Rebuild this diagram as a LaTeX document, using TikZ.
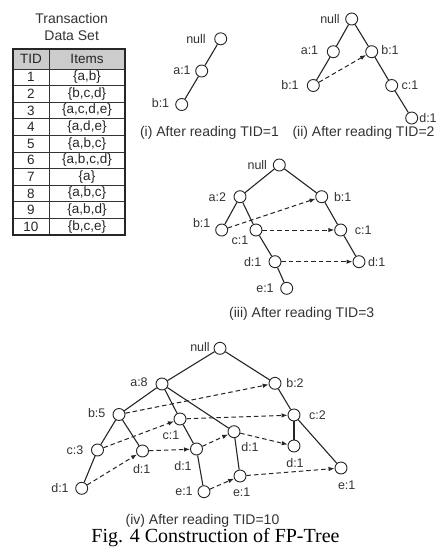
\documentclass[tikz,border=0pt]{standalone}
\usepackage{fontspec}
\setmainfont{Liberation Sans}
\newfontfamily\figcapfont{Liberation Serif}
\usetikzlibrary{arrows.meta}
\newcommand\fpn[4]{\node[circ] (#1) at (#2) {}; \node[lbl] (#1l) at (#3) {#4};}
\begin{document}
\begin{tikzpicture}[x=1pt,y=-1pt,
  circ/.style={circle,draw=black!85,line width=0.9pt,minimum size=12pt,inner sep=0pt,fill=white},
  lbl/.style={inner sep=0pt,font=\fontsize{12.5}{14}\selectfont,text=black!80},
  edge/.style={line width=1.1pt,draw=black!85},
  link/.style={line width=1pt,draw=black!85,dash pattern=on 4.5pt off 3pt,-{Latex[length=6pt,width=4.5pt]}},
  captxt/.style={inner sep=0pt,font=\fontsize{14}{16}\selectfont,text=black!80},
  tbl/.style={inner sep=0pt,font=\fontsize{13.5}{15}\selectfont,text=black!85},
]
\useasboundingbox (0,0) rectangle (438,547);

% ---------- table ----------
\node[captxt] (tt1) at (71.7,18.3) {Transaction};
\node[captxt] (tt2) at (71.7,36) {Data Set};
\fill[gray!40] (13,49) rectangle (125,69);
\foreach \r in {1,...,9} \draw[line width=0.7pt,black!80] (13,69+16.6*\r) -- (125,69+16.6*\r);
\draw[line width=0.7pt,black!80] (13,69) -- (125,69);
\draw[line width=0.7pt,black!80] (49,49) -- (49,235);
\draw[line width=1.2pt,black!85] (13,49) rectangle (125,235);
\node[tbl] (hTID) at (31,59) {TID};
\node[tbl] (hItems) at (87,59) {Items};
\foreach \i/\s in {1/{\{a,b\}},2/{\{b,c,d\}},3/{\{a,c,d,e\}},4/{\{a,d,e\}},5/{\{a,b,c\}},6/{\{a,b,c,d\}},7/{\{a\}},8/{\{a,b,c\}},9/{\{a,b,d\}},10/{\{b,c,e\}}}{
  \node[tbl] (tid\i) at (31,69+16.6*\i-8.3) {\i};
  \node[tbl] (it\i) at (87,69+16.6*\i-8.3) {\s};
}

% ---------- tree (i) ----------
\fpn{inull}{220.7,38.8}{196,39}{null}
\fpn{ia}{201.7,71}{182,70.5}{a:1}
\fpn{ib}{181.7,104.5}{160.5,103.5}{b:1}
\draw[edge] (inull) -- (ia);
\draw[edge] (ia) -- (ib);
\node[captxt] (capi) at (209.5,133) {(i) After reading TID=1};

% ---------- tree (ii) ----------
\fpn{iinull}{351.7,19}{330,19}{null}
\fpn{iia}{333.3,51.7}{309.5,50.5}{a:1}
\fpn{iibr}{371.7,51.7}{390,50.5}{b:1}
\fpn{iibl}{313.3,85.5}{290,85}{b:1}
\fpn{iic}{391.7,85.5}{410,85}{c:1}
\fpn{iid}{411.7,118}{428,118}{d:1}
\draw[edge] (iinull) -- (iia);
\draw[edge] (iinull) -- (iibr);
\draw[edge] (iia) -- (iibl);
\draw[edge] (iibr) -- (iic);
\draw[edge] (iic) -- (iid);
\draw[link] (iibl) -- (iibr);
\node[captxt] (capii) at (363.5,133) {(ii) After reading TID=2};

% ---------- tree (iii) ----------
\fpn{iiinull}{279.3,165}{257.3,165}{null}
\fpn{iiia}{240,196.7}{217.3,196.7}{a:2}
\fpn{iiibr}{321.7,196.7}{342.7,196.7}{b:1}
\fpn{iiibl}{221.7,230}{201.7,223.3}{b:1}
\fpn{iiicm}{256,230}{240,240}{c:1}
\fpn{iiicr}{340.7,230}{363.3,230}{c:1}
\fpn{iiidm}{275,261.7}{252.7,261.7}{d:1}
\fpn{iiidr}{359,261.7}{376.7,261.7}{d:1}
\fpn{iiie}{286.7,288.3}{265,288.3}{e:1}
\draw[edge] (iiinull) -- (iiia);
\draw[edge] (iiinull) -- (iiibr);
\draw[edge] (iiia) -- (iiibl);
\draw[edge] (iiia) -- (iiicm);
\draw[edge] (iiicm) -- (iiidm);
\draw[edge] (iiidm) -- (iiie);
\draw[edge] (iiibr) -- (iiicr);
\draw[edge] (iiicr) -- (iiidr);
\draw[link] (iiibl) -- (iiibr);
\draw[link] (iiicm) -- (iiicr);
\draw[link] (iiidm) -- (iiidr);
\node[captxt] (capiii) at (301.7,314) {(iii) After reading TID=3};

% ---------- tree (iv) ----------
\fpn{ivnull}{220,348.3}{200,347}{null}
\fpn{iva}{162,384}{139,382}{a:8}
\fpn{ivb}{275,383.3}{295,383.3}{b:2}
\fpn{ivbf}{119,414.5}{96.7,412.7}{b:5}
\fpn{ivc}{180,419}{171,435}{c:1}
\fpn{ivct}{294,415}{317.5,415}{c:2}
\fpn{ivda}{234,431.7}{250,447.3}{d:1}
\fpn{ivcth}{97.5,450}{75,450}{c:3}
\fpn{ivdb}{142.5,451}{141.7,469}{d:1}
\fpn{ivdc}{196.5,449}{183,466}{d:1}
\fpn{ivdd}{294,446}{295,463.3}{d:1}
\fpn{iver}{341,468}{346.7,485}{e:1}
\fpn{ivdl}{81.7,488.3}{60,488}{d:1}
\fpn{ivec}{204,491.7}{184,491.7}{e:1}
\fpn{ivea}{240,476}{241.7,492}{e:1}
\draw[edge] (ivnull) -- (iva);
\draw[edge] (ivnull) -- (ivb);
\draw[edge] (iva) -- (ivbf);
\draw[edge] (iva) -- (ivc);
\draw[edge] (iva) -- (ivda);
\draw[edge] (ivbf) -- (ivcth);
\draw[edge] (ivbf) -- (ivdb);
\draw[edge] (ivcth) -- (ivdl);
\draw[edge] (ivc) -- (ivdc);
\draw[edge] (ivdc) -- (ivec);
\draw[edge] (ivda) -- (ivea);
\draw[edge] (ivb) -- (ivct);
\draw[edge] (ivct) -- (ivdd);
\draw[edge] (ivct) -- (iver);
\draw[link] (ivbf) -- (ivb);
\draw[link] (ivcth) -- (ivc);
\draw[link] (ivc) -- (ivct);
\draw[link] (ivdl) -- (ivdb);
\draw[link] (ivdb) -- (ivdc);
\draw[link] (ivdc) -- (ivda);
\draw[link] (ivda) -- (ivdd);
\draw[link] (ivec) -- (ivea);
\draw[link] (ivea) -- (iver);
\node[captxt] (capiv) at (202.5,521) {(iv) After reading TID=10};
\node[inner sep=0pt,anchor=base,font=\figcapfont\fontsize{20}{22}\selectfont] (figcap) at (215.5,542.5) {Fig. 4 Construction of FP-Tree};
\end{tikzpicture}
\end{document}
